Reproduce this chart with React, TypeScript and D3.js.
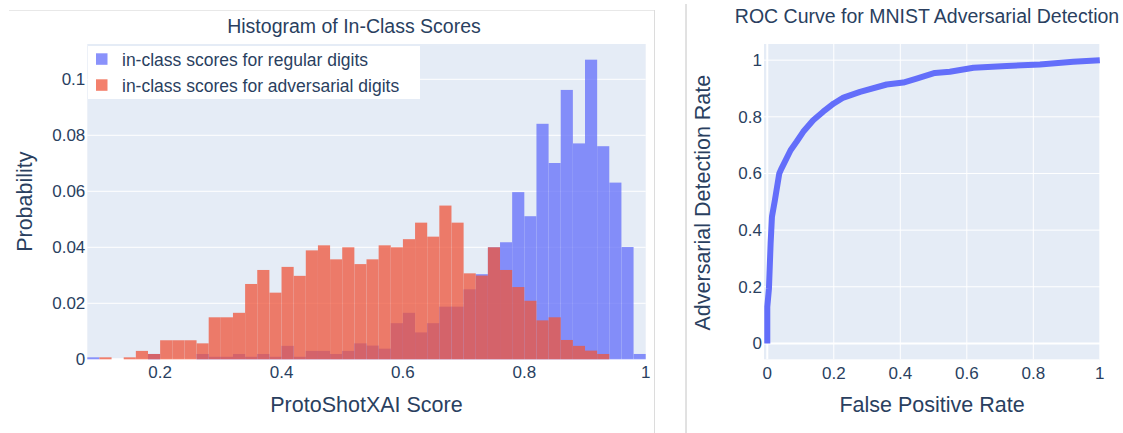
import React from "react";
import * as d3 from "d3";

// ---------- Data ----------
const binStarts = [
  0.08, 0.1, 0.12, 0.14, 0.16, 0.18, 0.2, 0.22, 0.24, 0.26, 0.28, 0.3, 0.32, 0.34, 0.36, 0.38,
  0.4, 0.42, 0.44, 0.46, 0.48, 0.5, 0.52, 0.54, 0.56, 0.58, 0.6, 0.62, 0.64, 0.66, 0.68, 0.7,
  0.72, 0.74, 0.76, 0.78, 0.8, 0.82, 0.84, 0.86, 0.88, 0.9, 0.92, 0.94, 0.96, 0.98,
];
const binSize = 0.02;

const regularProb = [
  0.0007, 0, 0, 0, 0, 0.0019, 0, 0, 0, 0.0019, 0.0009, 0.0009, 0.0019, 0.0009, 0.0019, 0.0009,
  0.0048, 0.0009, 0.003, 0.003, 0.0019, 0.003, 0.0057, 0.0049, 0.0038, 0.0129, 0.0166, 0.0096,
  0.0129, 0.0188, 0.0188, 0.025, 0.0304, 0.04, 0.0418, 0.0597, 0.0511, 0.0841, 0.0701, 0.0962,
  0.0771, 0.107, 0.0761, 0.0631, 0.0401, 0.0019,
];
const adversarialProb = [
  0, 0.0007, 0, 0.0007, 0.003, 0.0019, 0.0068, 0.0068, 0.0068, 0.0057, 0.015, 0.015, 0.0166,
  0.0269, 0.0319, 0.0238, 0.033, 0.0298, 0.0389, 0.0407, 0.0357, 0.04, 0.034, 0.0357, 0.0407,
  0.04, 0.0429, 0.0488, 0.0438, 0.0549, 0.0488, 0.0307, 0.0299, 0.04, 0.0319, 0.0258, 0.0209,
  0.0139, 0.015, 0.0069, 0.0048, 0.0031, 0.0019, 0, 0, 0,
];
const histSeriesNames = [
  "in-class scores for regular digits",
  "in-class scores for adversarial digits",
];
const histXTicks = [0.2, 0.4, 0.6, 0.8, 1];
const histYTicks = [0, 0.02, 0.04, 0.06, 0.08, 0.1];

const rocFpr = [
  0, 0, 0.005, 0.01, 0.014, 0.023, 0.036, 0.043, 0.07, 0.088, 0.108, 0.138, 0.168, 0.2, 0.229,
  0.279, 0.359, 0.409, 0.449, 0.504, 0.549, 0.58, 0.62, 0.72, 0.82, 0.92, 1,
];
const rocTpr = [
  0, 0.129, 0.194, 0.353, 0.447, 0.506, 0.6, 0.618, 0.682, 0.712, 0.747, 0.788, 0.818, 0.847,
  0.868, 0.888, 0.914, 0.921, 0.935, 0.955, 0.959, 0.965, 0.973, 0.979, 0.985, 0.994, 1,
];
const rocTicks = [0, 0.2, 0.4, 0.6, 0.8, 1];

// ---------- Styles ----------
const FONT = "'Liberation Sans', Arial, sans-serif";
const TXT = "#2a3f5f";
const BG = "#E5ECF6";
const BLUE = "#636efa";
const RED = "#EF553B";

const fmt = (v: number) => (v === 0 ? "0" : v === 1 ? "1" : String(+v.toFixed(2)));

export default function App() {
  // Histogram geometry
  const hL = 87.3, hR = 645.7, hT = 44, hB = 359.3;
  const hx = d3.scaleLinear().domain([0.08, 1.0]).range([hL, hR]);
  const hy = d3.scaleLinear().domain([0, 0.1126]).range([hB, hT]);

  // ROC geometry
  const rL = 764, rR = 1100, rT = 44, rB = 359.3;
  const rx = d3.scaleLinear().domain([-0.0099, 1.0006]).range([rL, rR]);
  const ry = d3.scaleLinear().domain([-0.056, 1.057]).range([rB, rT]);
  const rocLine = d3
    .line<number>()
    .x((_, i) => rx(rocFpr[i]))
    .y((d) => ry(d));

  const bars = (vals: number[], color: string) =>
    vals.map((v, i) =>
      v > 0 ? (
        <rect
          key={i}
          x={hx(binStarts[i])}
          y={hy(v)}
          width={hx(binStarts[i] + binSize) - hx(binStarts[i])}
          height={hy(0) - hy(v)}
          fill={color}
        />
      ) : null
    );

  return (
    <svg
      width={1123}
      height={433}
      style={{ position: "absolute", left: 0, top: 0, background: "#fff" }}
      fontFamily={FONT}
    >
      {/* frame lines */}
      <line x1={9} x2={654} y1={10.5} y2={10.5} stroke="#e8e8e8" strokeWidth={1} />
      <line x1={654.5} x2={654.5} y1={10} y2={433} stroke="#dcdcdc" strokeWidth={1} />
      <line x1={686} x2={686} y1={4} y2={433} stroke="#c4c4c4" strokeWidth={1} />

      {/* ---------- Histogram ---------- */}
      <rect x={hL} y={hT} width={hR - hL} height={hB - hT} fill={BG} />
      {histYTicks.map((t) =>
        t > 0 ? (
          <line key={t} x1={hL} x2={hR} y1={hy(t)} y2={hy(t)} stroke="#fff" strokeWidth={1} />
        ) : null
      )}
      <line x1={hL} x2={hR} y1={hy(0)} y2={hy(0)} stroke="#fff" strokeWidth={2} />
      <g opacity={0.75}>{bars(regularProb, BLUE)}</g>
      <g opacity={0.75}>{bars(adversarialProb, RED)}</g>

      {histYTicks.map((t) => (
        <text key={t} x={hL - 2} y={hy(t)} dy="0.35em" textAnchor="end" fontSize={17} fill={TXT}>
          {fmt(t)}
        </text>
      ))}
      {histXTicks.map((t) => (
        <text key={t} x={hx(t)} y={378} textAnchor="middle" fontSize={17} fill={TXT}>
          {fmt(t)}
        </text>
      ))}
      <text x={(hL + hR) / 2} y={412} textAnchor="middle" fontSize={21.5} fill={TXT}>
        ProtoShotXAI Score
      </text>
      <text
        transform={`translate(32,${(hT + hB) / 2}) rotate(-90)`}
        textAnchor="middle"
        fontSize={21.5}
        fill={TXT}
      >
        Probability
      </text>
      <text x={354} y={33} textAnchor="middle" fontSize={19.5} fill={TXT}>
        Histogram of In-Class Scores
      </text>

      {/* legend */}
      <rect x={88} y={46} width={332} height={53} fill="#fff" />
      {histSeriesNames.map((name, i) => (
        <g key={name}>
          <rect
            x={96}
            y={53.3 + i * 26}
            width={11.5}
            height={11.5}
            fill={i === 0 ? BLUE : RED}
            opacity={0.75}
          />
          <text x={122} y={65.5 + i * 26} fontSize={17.5} fill={TXT}>
            {name}
          </text>
        </g>
      ))}

      {/* ---------- ROC ---------- */}
      <rect x={rL} y={rT} width={rR - rL} height={rB - rT} fill={BG} />
      {rocTicks.map((t) =>
        t > 0 ? (
          <g key={t}>
            <line x1={rx(t)} x2={rx(t)} y1={rT} y2={rB} stroke="#fff" strokeWidth={1} />
            <line x1={rL} x2={rR} y1={ry(t)} y2={ry(t)} stroke="#fff" strokeWidth={1} />
          </g>
        ) : null
      )}
      <line x1={rx(0)} x2={rx(0)} y1={rT} y2={rB} stroke="#fff" strokeWidth={2} />
      <line x1={rL} x2={rR} y1={ry(0)} y2={ry(0)} stroke="#fff" strokeWidth={2} />
      <path
        d={rocLine(rocTpr) || ""}
        fill="none"
        stroke={BLUE}
        strokeWidth={6}
        strokeLinejoin="round"
      />
      {rocTicks.map((t) => (
        <g key={t}>
          <text x={rx(t)} y={379} textAnchor="middle" fontSize={17} fill={TXT}>
            {fmt(t)}
          </text>
          <text x={762} y={ry(t)} dy="0.35em" textAnchor="end" fontSize={17} fill={TXT}>
            {fmt(t)}
          </text>
        </g>
      ))}
      <text x={(rL + rR) / 2} y={412} textAnchor="middle" fontSize={21.5} fill={TXT}>
        False Positive Rate
      </text>
      <text
        transform={`translate(710,${(rT + rB) / 2 + 1}) rotate(-90)`}
        textAnchor="middle"
        fontSize={21.5}
        fill={TXT}
      >
        Adversarial Detection Rate
      </text>
      <text x={927} y={23} textAnchor="middle" fontSize={19.5} fill={TXT}>
        ROC Curve for MNIST Adversarial Detection
      </text>
    </svg>
  );
}
